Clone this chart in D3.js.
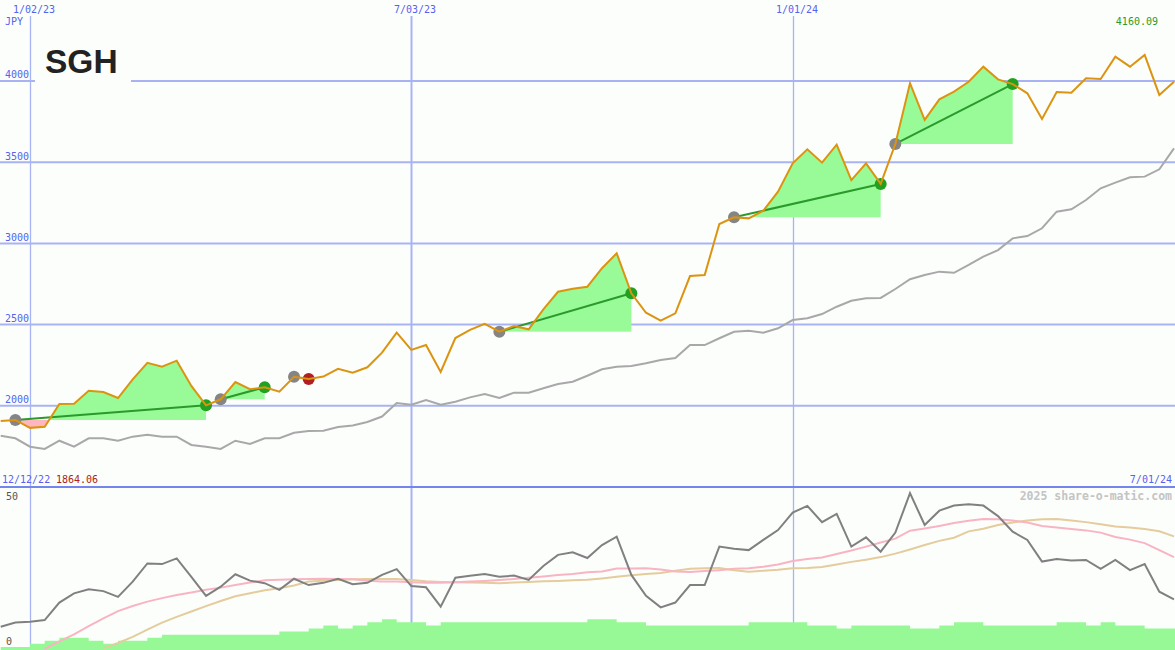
<!DOCTYPE html>
<html>
<head>
<meta charset="utf-8">
<script src="https://cdn.jsdelivr.net/npm/d3@7"></script>
<style>
  html, body { margin: 0; padding: 0; background: #fcfefc; }
  svg { display: block; }
</style>
</head>
<body>
<svg id="chart" width="1175" height="650"></svg>
<script>
// ---------- DATA ----------
const startDate = "2022-12-19";           // first weekly close
const weekCount = 81;
const gridDates = ["2023-01-02", "2023-07-03", "2024-01-01"];
const gridDateLabels = ["1/02/23", "7/03/23", "1/01/24"];
const priceTicks = [2000, 2500, 3000, 3500, 4000];

const price = [1906, 1913, 1864.06, 1871, 2011, 2013, 2093, 2085, 2048, 2163,
  2265, 2241, 2278, 2122, 2003, 2040, 2146, 2102, 2114, 2087,
  2179, 2165, 2180, 2228, 2204, 2237, 2327, 2450, 2344, 2374,
  2208, 2417, 2467, 2504, 2456, 2491, 2471, 2594, 2702, 2721,
  2733, 2847, 2939, 2693, 2573, 2524, 2569, 2799, 2805, 3119,
  3161, 3154, 3201, 3318, 3493, 3579, 3497, 3608, 3390, 3493,
  3366, 3612, 3986, 3760, 3887, 3934, 3995, 4088, 4010, 3981,
  3924, 3766, 3932, 3928, 4016, 4012, 4149, 4088, 4160.09, 3914,
  3995];

const trailLine = [1816, 1800, 1748, 1734, 1785, 1748, 1800, 1800, 1785, 1810,
  1822, 1810, 1810, 1759, 1748, 1734, 1785, 1765, 1800, 1800,
  1834, 1845, 1847, 1869, 1879, 1900, 1934, 2017, 2007, 2036,
  2007, 2025, 2052, 2073, 2048, 2081, 2081, 2108, 2134, 2148,
  2185, 2225, 2241, 2245, 2262, 2282, 2294, 2374, 2374, 2416,
  2456, 2462, 2450, 2477, 2528, 2539, 2565, 2610, 2647, 2662,
  2664, 2719, 2779, 2805, 2826, 2819, 2867, 2918, 2959, 3031,
  3045, 3093, 3195, 3210, 3267, 3339, 3374, 3407, 3411, 3456,
  3585];

const tradeEntry = [1, 15, 20, 34, 50, 61];
const tradeExit  = [14, 18, 21, 43, 60, 69];

const oscLine = [7.0, 8.3, 8.6, 9.1, 14.6, 17.5, 18.8, 18.2, 16.4, 21.2,
  26.9, 26.7, 28.5, 22.7, 16.7, 19.6, 23.5, 21.5, 20.7, 18.6,
  22.1, 20.1, 20.8, 22.1, 20.4, 20.8, 23.3, 25.1, 19.8, 19.4,
  13.3, 22.4, 23.0, 23.6, 22.7, 23.1, 21.7, 26.1, 29.6, 30.4,
  28.6, 32.7, 35.3, 23.3, 16.7, 13.1, 14.6, 20.1, 20.1, 32.2,
  31.5, 31.1, 34.3, 37.4, 42.9, 45.0, 39.9, 42.5, 32.2, 35.1,
  30.6, 36.6, 49.0, 39.0, 43.5, 45.1, 45.5, 45.1, 41.8, 36.9,
  34.3, 27.5, 28.3, 27.8, 28.0, 25.2, 28.0, 24.8, 26.7, 18.0,
  15.6];

const oscFast = [null, null, null, 0.0, 2.4, 4.6, 7.2, 9.6, 11.9, 13.5,
  14.9, 16.0, 17.0, 17.8, 18.6, 19.3, 20.1, 20.9, 21.6, 21.8,
  21.9, 22.0, 22.1, 22.0, 21.9, 21.5, 21.2, 21.2, 21.0, 20.8,
  20.8, 21.0, 21.2, 21.4, 21.7, 22.0, 22.4, 22.8, 23.3, 23.6,
  24.1, 24.4, 25.3, 25.3, 25.4, 25.0, 24.4, 24.2, 24.5, 24.8,
  25.2, 25.4, 25.9, 26.6, 27.7, 28.3, 28.8, 29.9, 31.0, 32.2,
  33.5, 34.7, 37.2, 37.9, 38.7, 39.6, 40.3, 40.9, 40.8, 40.4,
  39.8, 38.7, 38.2, 37.7, 37.3, 36.6, 35.2, 34.4, 33.3, 31.1,
  28.9];

const oscSlow = [null, null, null, null, null, null, null, 0.2, 1.9, 3.8,
  6.1, 8.3, 10.1, 11.8, 13.5, 15.1, 16.6, 17.5, 18.5, 19.1,
  20.0, 21.2, 21.5, 21.7, 21.9, 22.0, 22.0, 22.0, 21.7, 21.3,
  21.1, 21.0, 20.9, 20.8, 20.7, 20.9, 21.1, 21.3, 21.4, 21.6,
  21.8, 22.2, 22.7, 23.2, 23.6, 23.9, 24.6, 25.2, 25.4, 25.5,
  24.8, 24.3, 24.6, 24.9, 25.4, 25.5, 25.8, 26.6, 27.4, 28.1,
  28.9, 30.0, 31.3, 32.7, 34.0, 35.0, 37.0, 37.8, 39.0, 39.8,
  40.4, 40.8, 40.9, 40.4, 39.9, 39.2, 38.5, 38.2, 37.7, 37.0,
  35.4];

const volume = [1, 1, 2, 3, 4, 4, 3, 2, 3, 3,
  4, 5, 5, 5, 5, 5, 5, 5, 5, 6,
  6, 7, 8, 7, 8, 9, 10, 9, 9, 8,
  9, 9, 9, 9, 9, 9, 9, 9, 9, 9,
  10, 10, 9, 9, 8, 8, 8, 8, 8, 8,
  8, 9, 9, 9, 9, 8, 8, 7, 8, 8,
  8, 8, 7, 7, 8, 9, 9, 8, 8, 8,
  8, 8, 9, 9, 8, 9, 8, 8, 7, 7,
  7];

const oscTicks = [0, 50];

// ---------- SETUP ----------
const W = 1175, H = 650;
const BG = "#fcfefc";
const parse = d3.timeParse("%Y-%m-%d");
const t0 = parse(startDate);
const dates = d3.range(weekCount).map(i => d3.timeDay.offset(t0, 7 * i));
const endDate = dates[dates.length - 1];

const x = d3.scaleTime().domain([t0, endDate]).range([0.7, 1174]);
const y = d3.scaleLinear().domain([1500, 4400]).range([487, 16]);
const yo = d3.scaleLinear().domain([0, 50]).range([649, 490]);
const yv = d3.scaleLinear().domain([0, 10]).range([650, 619.3]);

const svg = d3.select("#chart");
svg.append("rect").attr("width", W).attr("height", H).attr("fill", BG);
const defs = svg.append("defs");

const mono = "'DejaVu Sans Mono', 'Liberation Mono', monospace";
const gridColor = "#a9b3f3";
const labelBlue = "#5563ee";

// ---------- MAIN PANEL GRID ----------
const main = svg.append("g");
main.selectAll("line.h").data(priceTicks).join("line")
  .attr("x1", 0).attr("x2", W)
  .attr("y1", d => y(d)).attr("y2", d => y(d))
  .attr("stroke", gridColor).attr("stroke-width", 2);

gridDates.forEach((ds, i) => {
  const xx = Math.round(x(parse(ds))) + 0.5;
  const thick = ds.slice(5, 7) === "07" ? 2 : 1.3;
  main.append("line").attr("x1", xx).attr("x2", xx).attr("y1", 16).attr("y2", 487)
    .attr("stroke", gridColor).attr("stroke-width", thick);
  svg.append("line").attr("x1", xx).attr("x2", xx).attr("y1", 488).attr("y2", 650)
    .attr("stroke", gridColor).attr("stroke-width", thick);
  svg.append("text").attr("x", xx - 17.5).attr("y", 12.5)
    .attr("font-family", mono).attr("font-size", 10).attr("fill", labelBlue)
    .text(gridDateLabels[i]);
});

// title box
svg.append("rect").attr("x", 35).attr("y", 38).attr("width", 96).attr("height", 48).attr("fill", BG);
svg.append("text").attr("x", 45).attr("y", 73)
  .attr("font-family", "'Liberation Sans', Arial, sans-serif").attr("font-weight", "bold")
  .attr("font-size", 33.5).attr("fill", "#222").text("SGH");

// y labels
svg.selectAll("text.yl").data(priceTicks).join("text")
  .attr("x", 29).attr("y", d => y(d) - 2.5).attr("text-anchor", "end")
  .attr("font-family", mono).attr("font-size", 10).attr("fill", labelBlue)
  .text(d => d);
svg.append("text").attr("x", 5).attr("y", 25)
  .attr("font-family", mono).attr("font-size", 10).attr("fill", labelBlue).text("JPY");

// ---------- TRAIL LINE ----------
const lineGen = d3.line().x((d, i) => x(dates[i])).y(d => y(d));
main.append("path").attr("d", lineGen(trailLine))
  .attr("fill", "none").attr("stroke", "#a8a8a8").attr("stroke-width", 2);

// ---------- TRADE FILLS ----------
tradeEntry.forEach((e, i) => {
  const xEnd = tradeExit[i];
  const seg = d3.range(e, xEnd + 1);
  const level = price[e];
  const area = d3.area().x(k => x(dates[k])).y0(y(level)).y1(k => y(price[k]));
  defs.append("clipPath").attr("id", "ca" + i).append("rect")
    .attr("x", 0).attr("y", 0).attr("width", W).attr("height", y(level));
  defs.append("clipPath").attr("id", "cb" + i).append("rect")
    .attr("x", 0).attr("y", y(level)).attr("width", W).attr("height", H - y(level));
  main.append("path").attr("d", area(seg)).attr("fill", "#98fb98").attr("clip-path", `url(#ca${i})`);
  main.append("path").attr("d", area(seg)).attr("fill", "#ffb6c1").attr("clip-path", `url(#cb${i})`);
});

// trade lines
tradeEntry.forEach((e, i) => {
  const xk = tradeExit[i];
  const win = price[xk] >= price[e];
  main.append("line")
    .attr("x1", x(dates[e])).attr("y1", y(price[e]))
    .attr("x2", x(dates[xk])).attr("y2", y(price[xk]))
    .attr("stroke", win ? "#2a9a2a" : "#f4a0a8").attr("stroke-width", 2);
});
// dots
tradeEntry.forEach((e, i) => {
  const xk = tradeExit[i];
  const win = price[xk] >= price[e];
  main.append("circle").attr("cx", x(dates[e])).attr("cy", y(price[e])).attr("r", 6).attr("fill", "#858585");
  main.append("circle").attr("cx", x(dates[xk])).attr("cy", y(price[xk])).attr("r", 6)
    .attr("fill", win ? "#22a022" : "#b02020");
});

// ---------- PRICE LINE ----------
const priceLine = d3.line().x((d, i) => x(dates[i])).y(d => y(d));
main.append("path").attr("d", priceLine(price))
  .attr("fill", "none").attr("stroke", "#dc9410").attr("stroke-width", 2).attr("stroke-linejoin", "miter");

// max / min labels
svg.append("text").attr("x", 1158).attr("y", 25).attr("text-anchor", "end")
  .attr("font-family", mono).attr("font-size", 10).attr("fill", "#2a9a2a")
  .text(d3.max(price).toFixed(2));
svg.append("text").attr("x", 2).attr("y", 483)
  .attr("font-family", mono).attr("font-size", 10).attr("fill", labelBlue).text("12/12/22");
svg.append("text").attr("x", 56).attr("y", 483)
  .attr("font-family", mono).attr("font-size", 10).attr("fill", "#aa2222")
  .text(d3.min(price).toFixed(2));
svg.append("text").attr("x", 1172).attr("y", 483).attr("text-anchor", "end")
  .attr("font-family", mono).attr("font-size", 10).attr("fill", labelBlue).text("7/01/24");

// separator
svg.append("line").attr("x1", 0).attr("x2", W).attr("y1", 487).attr("y2", 487)
  .attr("stroke", "#7585ee").attr("stroke-width", 2);

// ---------- LOWER PANEL ----------
const low = svg.append("g");
const volIdx = d3.range(weekCount);
const volArea = d3.area().curve(d3.curveStepAfter)
  .x(k => k < weekCount ? x(dates[k]) : W)
  .y0(yv(0)).y1(k => yv(volume[Math.min(k, weekCount - 1)]));
low.append("path").attr("d", volArea([...volIdx, weekCount])).attr("fill", "#96f996");

const oscGen = d3.line().defined(d => d != null).x((d, i) => x(dates[i])).y(d => yo(d));
low.append("path").attr("d", oscGen(oscSlow)).attr("fill", "none").attr("stroke", "#e4cc9c").attr("stroke-width", 2);
low.append("path").attr("d", oscGen(oscFast)).attr("fill", "none").attr("stroke", "#f9b4c4").attr("stroke-width", 2);
low.append("path").attr("d", oscGen(oscLine)).attr("fill", "none").attr("stroke", "#808080").attr("stroke-width", 2);

svg.append("text").attr("x", 6).attr("y", 499.5)
  .attr("font-family", mono).attr("font-size", 10).attr("fill", "#555").text(oscTicks[1]);
svg.append("text").attr("x", 6).attr("y", 645)
  .attr("font-family", mono).attr("font-size", 10).attr("fill", "#555").text(oscTicks[0]);

svg.append("text").attr("x", 1172).attr("y", 500).attr("text-anchor", "end")
  .attr("font-family", mono).attr("font-size", 11.5).attr("font-weight", "bold")
  .attr("fill", "#c4c4c4").text("2025 share-o-matic.com");
</script>
</body>
</html>
